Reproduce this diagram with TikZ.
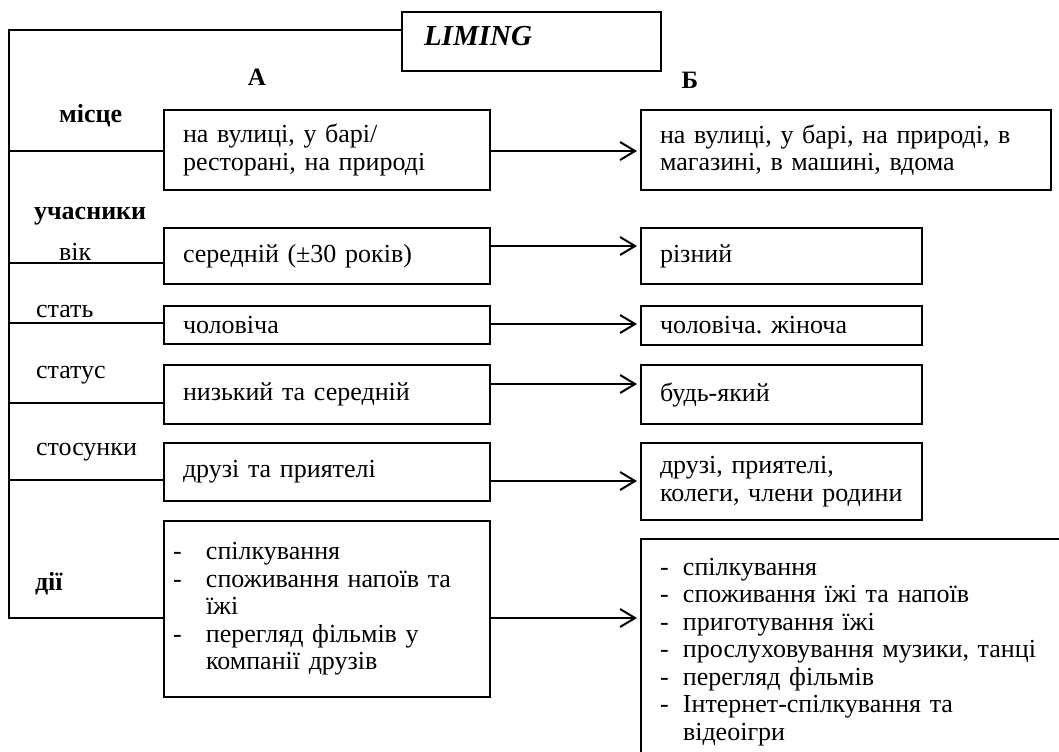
\documentclass[tikz,border=0pt]{standalone}
\usepackage{fontspec}
\setmainfont{Liberation Serif}
\usepackage{tikz}
\usetikzlibrary{positioning, arrows.meta}
\newcommand{\itm}[1][0pt]{\makebox[11.5pt][l]{\hspace*{#1}-}}
\newcommand{\cont}{\hspace*{11.5pt}}
\frenchspacing

\begin{document}
\begin{tikzpicture}[
		x=0.5pt, y=-0.5pt,
		>={Straight Barb[length=7.5pt, width=9pt]},
		node distance=74.5pt,
		every node/.style={font=\fontsize{13}{13.75}\selectfont},
		bold/.style={font=\fontsize{13}{13.75}\selectfont\bfseries},
		box/.style={draw, line width=1pt, rectangle, anchor=north west, align=left, inner xsep=9.5pt, inner ysep=2pt},
		colA/.style={box, text width=144pt},
		colB/.style={box, right=of #1.north east, anchor=north west},
		lbl/.style={anchor=base west},
		link/.style={->, line width=1pt, shorten >=1.5pt}]

	\useasboundingbox (0,0) rectangle (1059,751);
	\clip (0,0) rectangle (1059,751);

	% title and column heads
	\node[box, inner xsep=11pt, text width=107.5pt, minimum height=29.5pt, text height=14.5pt, text depth=11pt, font=\fontsize{14.5}{15}\selectfont\bfseries\itshape] (liming) at (401,11) {LIMING};
	\node[font=\fontsize{12.5}{12.5}\selectfont\bfseries] (headA) at (257,77) {А};
	\node[font=\fontsize{12.5}{12.5}\selectfont\bfseries] (headB) at (690,80) {Б};

	% row labels
	\node[lbl, bold] (mistse) at (52,122) {місце};
	\node[lbl, bold] (uchasnyky) at (27,219) {учасники};
	\node[lbl] (vik) at (52,260) {вік};
	\node[lbl] (stat) at (29,317) {стать};
	\node[lbl] (status) at (29,378) {статус};
	\node[lbl] (stosunky) at (29,455) {стосунки};
	\node[lbl, bold] (dii) at (28,590) {дії};

	% column A
	\node[colA, minimum height=40pt] (mistseA) at (163,109) {на вулиці, у барі/\\ресторані, на природі};
	\node[colA, minimum height=28pt] (vikA) at (163,227) {середній (±30 років)};
	\node[colA, minimum height=19pt] (statA) at (163,305) {чоловіча};
	\node[colA, minimum height=29.5pt] (statusA) at (163,364) {низький та середній};
	\node[colA, minimum height=29pt] (stosA) at (163,442) {друзі та приятелі};
	\node[colA, minimum height=88pt] (diiA) at (163,520) {\itm[-5pt]спілкування\\\itm[-5pt]споживання напоїв та\\\cont їжі\\\itm[-5pt]перегляд фільмів у\\\cont компанії друзів};

	% column B
	\node[colB=mistseA, text width=186pt, minimum height=40pt] (mistseB) {на вулиці, у барі, на природі, в\\магазині, в машині, вдома};
	\node[colB=vikA, text width=121.5pt, minimum height=28pt] (vikB) {різний};
	\node[colB=statA, text width=121.5pt, minimum height=19.5pt] (statB) {чоловіча. жіноча};
	\node[colB=statusA, text width=121.5pt, minimum height=29.5pt] (statusB) {будь-який};
	\node[colB=stosA, text width=121.5pt, minimum height=38.5pt] (stosB) {друзі, приятелі,\\колеги, члени родини};
	\node[colB=diiA, yshift=-9pt, text width=199.5pt, minimum height=113pt] (diiB) {\itm спілкування\\\itm споживання їжі та напоїв\\\itm приготування їжі\\\itm прослуховування музики, танці\\\itm перегляд фільмів\\\itm Інтернет-спілкування та\\\cont відеоігри};

	% frame on the left
	\coordinate (ftop) at (9,30);
	\coordinate (fbot) at (9,618);
	\draw[line width=1pt] (liming.west |- ftop) -- (ftop) -- (fbot) -- (diiA.west |- fbot);
	\foreach \n/\y in {mistseA/151, vikA/263, statA/323, statusA/403, stosA/480}
		\draw[line width=1pt] (ftop |- 0,\y) -- (\n.west |- 0,\y);

	% arrows A -> B
	\foreach \n/\y in {mistse/151, vik/246, stat/324, status/384, stos/481, dii/618}
		\draw[link] (\n A.east |- 0,\y) -- (\n B.west |- 0,\y);

\end{tikzpicture}
\end{document}
